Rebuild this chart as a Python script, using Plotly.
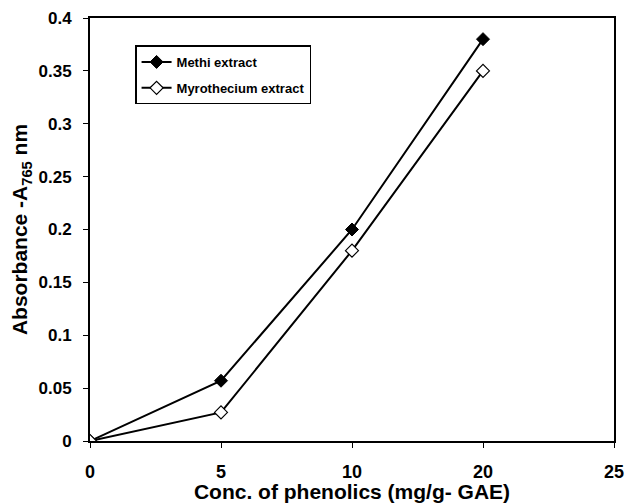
import plotly.graph_objects as go

categories = ["0", "5", "10", "20", "25"]
conc = ["0", "5", "10", "20"]
methi = [0.0, 0.057, 0.20, 0.38]
myrothecium = [0.0, 0.027, 0.18, 0.35]
y_ticks = [0, 0.05, 0.1, 0.15, 0.2, 0.25, 0.3, 0.35, 0.4]
y_ticklabels = ["0", "0.05", "0.1", "0.15", "0.2", "0.25", "0.3", "0.35", "0.4"]

xpos = [categories.index(c) for c in conc]

fig = go.Figure()
fig.add_trace(go.Scatter(
    x=xpos, y=methi, name="<b>Methi extract</b>", mode="lines+markers",
    legendgroup="a",
    line=dict(color="black", width=2),
    marker=dict(symbol="diamond", size=10, color="black", line=dict(color="black", width=1)),
))
fig.add_trace(go.Scatter(
    x=xpos, y=myrothecium, name="<b>Myrothecium extract</b>", mode="lines+markers",
    legendgroup="b",
    line=dict(color="black", width=2),
    marker=dict(symbol="diamond", size=10, color="white", line=dict(color="black", width=1.2)),
))

font_family = "Liberation Sans, Arial, sans-serif"
fig.update_layout(
    width=625, height=503,
    margin=dict(l=90, r=11, t=18, b=62),
    paper_bgcolor="white", plot_bgcolor="white",
    font=dict(family=font_family, color="black"),
    showlegend=True,
    legend=dict(
        x=0.086, y=0.935, xanchor="left", yanchor="top",
        bordercolor="black", borderwidth=1.5, bgcolor="white",
        font=dict(size=13, family=font_family, color="black"),
        tracegroupgap=6, itemwidth=30,
    ),
    xaxis=dict(
        range=[0, 4], tickmode="array", tickvals=list(range(len(categories))),
        ticktext=["<b>%s</b>" % c for c in categories],
        ticks="outside", ticklen=5, tickwidth=1.2, tickcolor="black",
        showline=True, linecolor="black", linewidth=2, mirror=True,
        showgrid=False, zeroline=False, automargin=False,
        tickfont=dict(size=18), ticklabelstandoff=8,
        title=dict(text="<b>Conc. of phenolics (mg/g- GAE)</b>", font=dict(size=21), standoff=3),
    ),
    yaxis=dict(
        range=[0, 0.4], tickmode="array", tickvals=y_ticks,
        ticktext=["<b>%s</b>" % t for t in y_ticklabels],
        ticks="outside", ticklen=5, tickwidth=1.2, tickcolor="black",
        showline=True, linecolor="black", linewidth=2, mirror=True,
        showgrid=False, zeroline=False, automargin=False,
        tickfont=dict(size=17), ticklabelstandoff=8,
        title=dict(text="<b>Absorbance -A<sub>765</sub> nm</b>", font=dict(size=21), standoff=5),
    ),
)

fig.write_html("out.html", config={"displayModeBar": False},
               post_script="document.body.style.margin='0';")
